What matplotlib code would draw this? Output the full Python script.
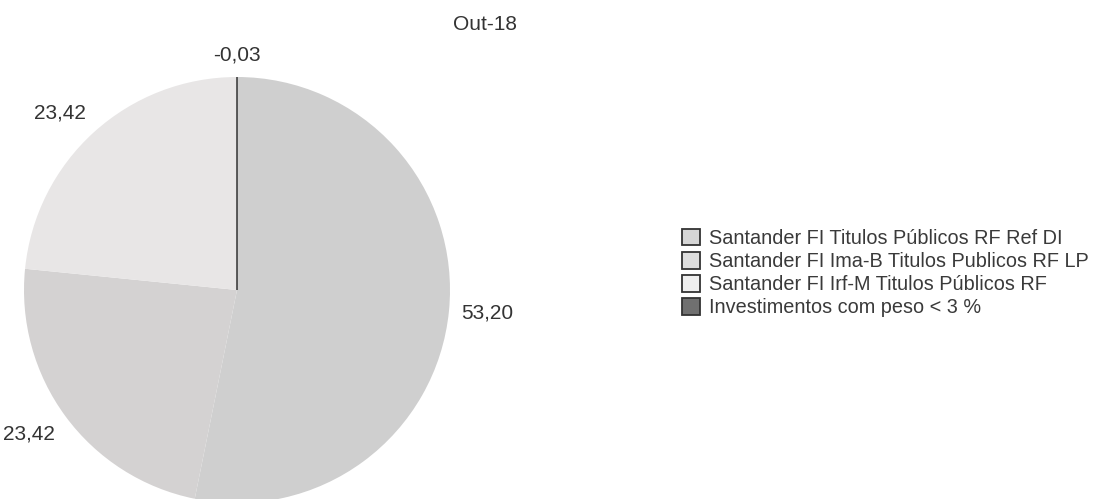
import matplotlib
matplotlib.use("Agg")
import matplotlib.pyplot as plt
from matplotlib.patches import Patch

plt.rcParams["font.family"] = ["Liberation Sans", "DejaVu Sans"]

# data
title = "Out-18"
funds = [
    "Santander FI Titulos Públicos RF Ref DI",
    "Santander FI Ima-B Titulos Publicos RF LP",
    "Santander FI Irf-M Titulos Públicos RF",
    "Investimentos com peso < 3 %",
]
weights = [53.20, 23.42, 23.42, -0.03]
slice_colors = ["#cfcfcf", "#d4d2d2", "#e8e6e6", "#6e6e6e"]
legend_colors = ["#d6d6d6", "#dedede", "#efefef", "#707070"]

labels = [f"{w:.2f}".replace(".", ",") for w in weights]
sizes = [max(w, 0) for w in weights]

W, H = 1096, 499
cx, cy, r = 237, 290, 213  # pie centre / radius in pixels

fig = plt.figure(figsize=(W / 100, H / 100), dpi=100)
ax = fig.add_axes([(cx - r) / W, (H - cy - r) / H, 2 * r / W, 2 * r / H])

wedges, texts = ax.pie(sizes, labels=labels, colors=slice_colors,
                       startangle=90, counterclock=False,
                       labeldistance=1.06,
                       wedgeprops=dict(edgecolor="none", linewidth=0),
                       textprops=dict(fontsize=15, color="#333333"))
# put each label just outside the rim, like the original
for t in texts:
    x, y = t.get_position()
    t.set_horizontalalignment("left" if x > 0.15 else "right" if x < -0.15 else "center")
    t.set_verticalalignment("bottom" if y > 0.3 else "top" if y < -0.3 else "center")
# the last (zero) slice shows up only as a thin dark line
wedges[-1].set_edgecolor("#222222")
wedges[-1].set_linewidth(1.0)

ax.set_xlim(-1, 1)
ax.set_ylim(-1, 1)
ax.set_aspect("equal")
ax.axis("off")

fig.text(485 / W, 1 - 24 / H, title, fontsize=15, color="#333333",
         ha="center", va="center")

handles = [Patch(facecolor=c, edgecolor="#333333", linewidth=1.3) for c in legend_colors]
fig.legend(handles, funds, loc="upper left", bbox_to_anchor=(682 / W, 1 - 229 / H),
           frameon=False, fontsize=14.3, borderpad=0, borderaxespad=0,
           handlelength=0.9, handleheight=0.9, handletextpad=0.45,
           labelspacing=0.2, labelcolor="#3a3a3a")

fig.savefig("out.png", dpi=100)
